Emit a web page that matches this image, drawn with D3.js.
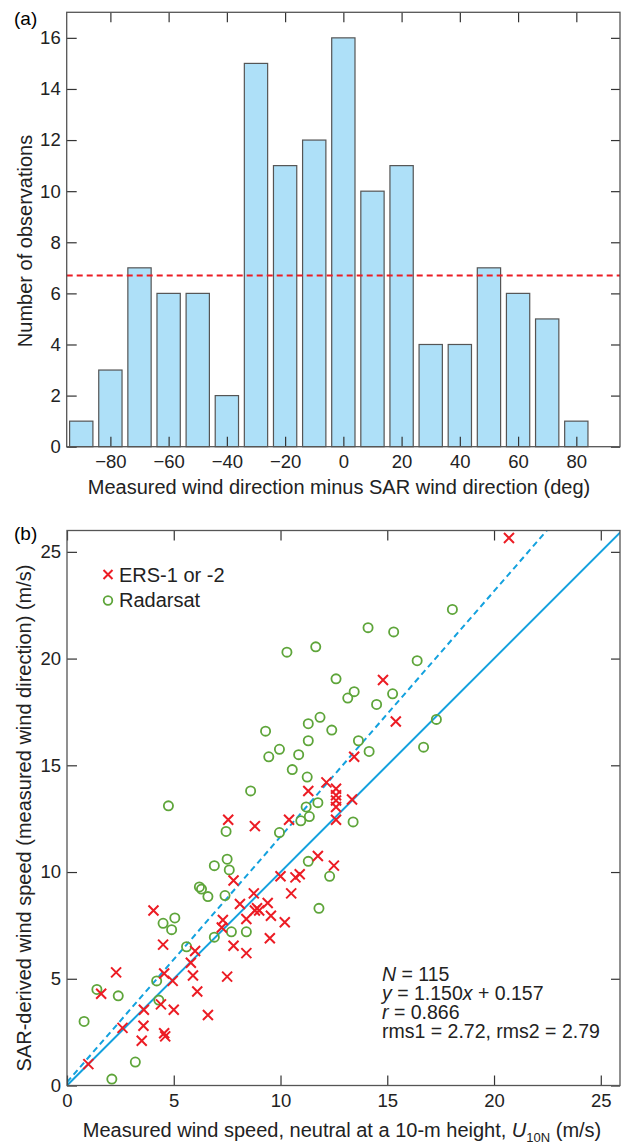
<!DOCTYPE html>
<html>
<head>
<meta charset="utf-8">
<script src="https://cdn.jsdelivr.net/npm/d3@7"></script>
<style>
  body { margin: 0; background: #fff; }
  svg { display: block; font-family: "Liberation Sans", Arial, Helvetica, sans-serif; }
</style>
</head>
<body>
<svg width="621" height="1144"></svg>
<script>
// (a) histogram of direction differences
const binCenters = [-90, -80, -70, -60, -50, -40, -30, -20, -10, 0, 10, 20, 30, 40, 50, 60, 70, 80];
const binCounts  = [1, 3, 7, 6, 6, 2, 15, 11, 12, 16, 10, 11, 4, 4, 7, 6, 5, 1];
const meanCount  = 6.7;
const dirTicks   = [-80, -60, -40, -20, 0, 20, 40, 60, 80];
const countTicks = [0, 2, 4, 6, 8, 10, 12, 14, 16];

// (b) scatter, [measured U10N, SAR-derived speed]
const ersPoints = [
  [1.0, 1.0], [1.6, 4.3], [2.3, 5.3], [2.6, 2.7], [3.6, 3.55], [3.58, 2.8], [3.5, 2.1],
  [4.05, 8.2], [4.5, 6.6], [4.55, 5.25], [4.4, 3.8], [4.55, 2.45], [4.6, 2.3], [4.95, 4.9],
  [5.0, 3.55], [5.8, 5.75], [6.0, 6.3], [5.9, 5.15], [6.1, 4.4], [6.6, 3.3], [7.3, 7.75],
  [7.25, 7.4], [7.5, 5.1], [7.8, 6.55], [7.8, 9.6], [8.1, 8.5], [8.4, 7.8], [8.4, 6.2],
  [8.75, 9.0], [8.8, 8.2], [8.9, 8.3], [9.0, 8.2], [9.4, 8.55], [9.55, 7.95], [9.5, 6.9],
  [10.0, 9.8], [10.2, 7.65], [10.5, 9.0], [10.7, 9.75], [10.9, 9.9], [11.75, 10.75], [12.5, 10.3],
  [7.55, 12.45], [8.8, 12.15], [10.4, 12.45], [11.3, 13.8], [12.15, 14.2], [14.8, 19.0],
  [15.4, 17.05], [13.45, 15.4], [12.6, 13.9], [12.6, 13.6], [12.6, 13.35], [12.6, 13.05],
  [12.6, 12.45], [13.35, 13.4], [20.7, 25.65]
];
const radarsatPoints = [
  [0.8, 3.0], [1.4, 4.5], [2.4, 4.2], [2.1, 0.3], [3.2, 1.1], [4.2, 4.9], [4.3, 4.0],
  [4.5, 7.6], [4.9, 7.3], [5.05, 7.85], [5.6, 6.5], [6.2, 9.3], [6.3, 9.2], [6.6, 8.85],
  [6.9, 10.3], [6.9, 6.95], [7.5, 10.6], [7.6, 10.1], [7.4, 8.9], [7.7, 7.2], [8.4, 7.2],
  [11.3, 10.5], [11.8, 8.3], [12.3, 9.8], [10.3, 20.3], [11.65, 20.55], [11.85, 17.25],
  [11.3, 16.95], [12.4, 16.65], [9.3, 16.6], [11.3, 16.15], [9.95, 15.75], [9.45, 15.4],
  [10.85, 15.5], [10.55, 14.8], [11.25, 14.45], [8.6, 13.8], [4.75, 13.1], [11.2, 13.05],
  [11.75, 13.25], [11.35, 12.6], [10.95, 12.4], [9.95, 11.85], [7.45, 11.9], [16.4, 19.9],
  [12.6, 19.05], [13.45, 18.45], [13.15, 18.15], [15.25, 18.35], [14.5, 17.85], [17.3, 17.15],
  [13.65, 16.15], [14.15, 15.65], [16.7, 15.85], [13.4, 12.35], [18.05, 22.3], [14.1, 21.45],
  [15.3, 21.25]
];
const fitSlope = 1.150;
const fitIntercept = 0.157;
const speedTicks = [0, 5, 10, 15, 20, 25];
const statsLines = [
  [["N", true], [" = 115", false]],
  [["y", true], [" = 1.150", false], ["x", true], [" + 0.157", false]],
  [["r", true], [" = 0.866", false]],
  [["rms1 = 2.72, rms2 = 2.79", false]]
];

const svg = d3.select("svg");
const frameColor = "#555";
const red = "#ec1c24", green = "#5ea53a", blue = "#13a1de";

// inward ticks on all four sides, labels on left and bottom only
function drawAxes(x, y, xTicks, yTicks) {
  const [x0, x1] = x.range(), [y0, y1] = y.range();
  const styleAxis = g => {
    g.select(".domain").remove();
    g.selectAll(".tick line").attr("stroke", "#333").attr("stroke-width", 1.2);
    g.selectAll("text").attr("fill", "#222").attr("font-size", 18.5)
      .attr("font-family", "Liberation Sans, Arial, sans-serif");
  };
  svg.append("g").attr("transform", `translate(0,${y0})`)
    .call(d3.axisBottom(x).tickValues(xTicks).tickSize(-10).tickPadding(8.5)).call(styleAxis);
  svg.append("g").attr("transform", `translate(0,${y1})`)
    .call(d3.axisTop(x).tickValues(xTicks).tickSize(-10).tickFormat("")).call(styleAxis);
  svg.append("g").attr("transform", `translate(${x0},0)`)
    .call(d3.axisLeft(y).tickValues(yTicks).tickSize(-10).tickPadding(6)).call(styleAxis);
  svg.append("g").attr("transform", `translate(${x1},0)`)
    .call(d3.axisRight(y).tickValues(yTicks).tickSize(-9).tickFormat("")).call(styleAxis);
  svg.append("rect")
    .attr("x", x0).attr("y", y1).attr("width", x1 - x0).attr("height", y0 - y1)
    .attr("fill", "none").attr("stroke", frameColor).attr("stroke-width", 1.3);
}

// ---- panel (a)
const xa = d3.scaleLinear().domain([-95, 95]).range([66.7, 620]);
const ya = d3.scaleLinear().domain([0, 17]).range([446.7, 12.3]);

svg.append("g").selectAll("rect")
  .data(binCenters)
  .enter().append("rect")
  .attr("x", d => xa(d - 4))
  .attr("width", d => xa(d + 4) - xa(d - 4))
  .attr("y", (d, i) => ya(binCounts[i]))
  .attr("height", (d, i) => ya(0) - ya(binCounts[i]))
  .attr("fill", "#aee0f8")
  .attr("stroke", "#555")
  .attr("stroke-width", 1.2);

svg.append("line")
  .attr("x1", xa(-95)).attr("x2", xa(95))
  .attr("y1", ya(meanCount)).attr("y2", ya(meanCount))
  .attr("stroke", red).attr("stroke-width", 2)
  .attr("stroke-dasharray", "6,4");

drawAxes(xa, ya, dirTicks, countTicks);

svg.append("text").attr("x", 14).attr("y", 25).attr("font-size", 19).text("(a)");
svg.append("text").attr("x", 339).attr("y", 493.5).attr("text-anchor", "middle")
  .attr("font-size", 20).attr("fill", "#222")
  .text("Measured wind direction minus SAR wind direction (deg)");
svg.append("text").attr("transform", "translate(31.5,241) rotate(-90)")
  .attr("text-anchor", "middle").attr("font-size", 20).attr("fill", "#222")
  .text("Number of observations");

// ---- panel (b)
const xb = d3.scaleLinear().domain([0, 25.9]).range([67, 620]);
const yb = d3.scaleLinear().domain([0, 26]).range([1085.5, 530.5]);

svg.append("clipPath").attr("id", "clipb").append("rect")
  .attr("x", 67).attr("y", 530.5).attr("width", 553).attr("height", 555);

const lines = svg.append("g").attr("clip-path", "url(#clipb)");
const line = d3.line().x(d => xb(d[0])).y(d => yb(d[1]));
lines.append("path")
  .attr("d", line([[0, 0], [26, 26]]))
  .attr("fill", "none").attr("stroke", blue).attr("stroke-width", 2);
lines.append("path")
  .attr("d", line([[0, fitIntercept], [26, fitSlope * 26 + fitIntercept]]))
  .attr("fill", "none").attr("stroke", blue).attr("stroke-width", 2)
  .attr("stroke-dasharray", "6,4");

const cross = "M-5,-5L5,5M-5,5L5,-5";

svg.append("g").selectAll("circle")
  .data(radarsatPoints)
  .enter().append("circle")
  .attr("cx", d => xb(d[0]))
  .attr("cy", d => yb(d[1]))
  .attr("r", 4.6)
  .attr("fill", "none").attr("stroke", green).attr("stroke-width", 1.8);

svg.append("g").selectAll("path")
  .data(ersPoints)
  .enter().append("path")
  .attr("transform", d => `translate(${xb(d[0])},${yb(d[1])})`)
  .attr("d", cross)
  .attr("stroke", red).attr("stroke-width", 2);

drawAxes(xb, yb, speedTicks, speedTicks);

// legend
svg.append("path").attr("transform", "translate(108,574.5)")
  .attr("d", "M-4.5,-4.5L4.5,4.5M-4.5,4.5L4.5,-4.5")
  .attr("stroke", red).attr("stroke-width", 2);
svg.append("text").attr("x", 119).attr("y", 582).attr("font-size", 20).attr("fill", "#222")
  .text("ERS-1 or -2");
svg.append("circle").attr("cx", 108).attr("cy", 600.5).attr("r", 4.3)
  .attr("fill", "none").attr("stroke", green).attr("stroke-width", 1.8);
svg.append("text").attr("x", 119).attr("y", 607).attr("font-size", 20).attr("fill", "#222")
  .text("Radarsat");

// fit statistics
const stats = svg.append("text").attr("font-size", 19.5).attr("fill", "#222");
statsLines.forEach((segs, i) => {
  segs.forEach((s, j) => {
    const t = stats.append("tspan").text(s[0]);
    if (j === 0) t.attr("x", 382).attr("y", 980.5 + i * 19.2);
    if (s[1]) t.attr("font-style", "italic");
  });
});

svg.append("text").attr("x", 14).attr("y", 540).attr("font-size", 19).text("(b)");

const xt = svg.append("text").attr("x", 342).attr("y", 1137).attr("text-anchor", "middle")
  .attr("font-size", 20).attr("fill", "#222");
xt.append("tspan").text("Measured wind speed, neutral at a 10-m height, ");
xt.append("tspan").attr("font-style", "italic").text("U");
xt.append("tspan").attr("font-size", 13).attr("dy", 5).text("10N");
xt.append("tspan").attr("dy", -5).text(" (m/s)");

svg.append("text").attr("transform", "translate(31,818) rotate(-90)")
  .attr("text-anchor", "middle").attr("font-size", 20).attr("fill", "#222")
  .text("SAR-derived wind speed (measured wind direction) (m/s)");
</script>
</body>
</html>
